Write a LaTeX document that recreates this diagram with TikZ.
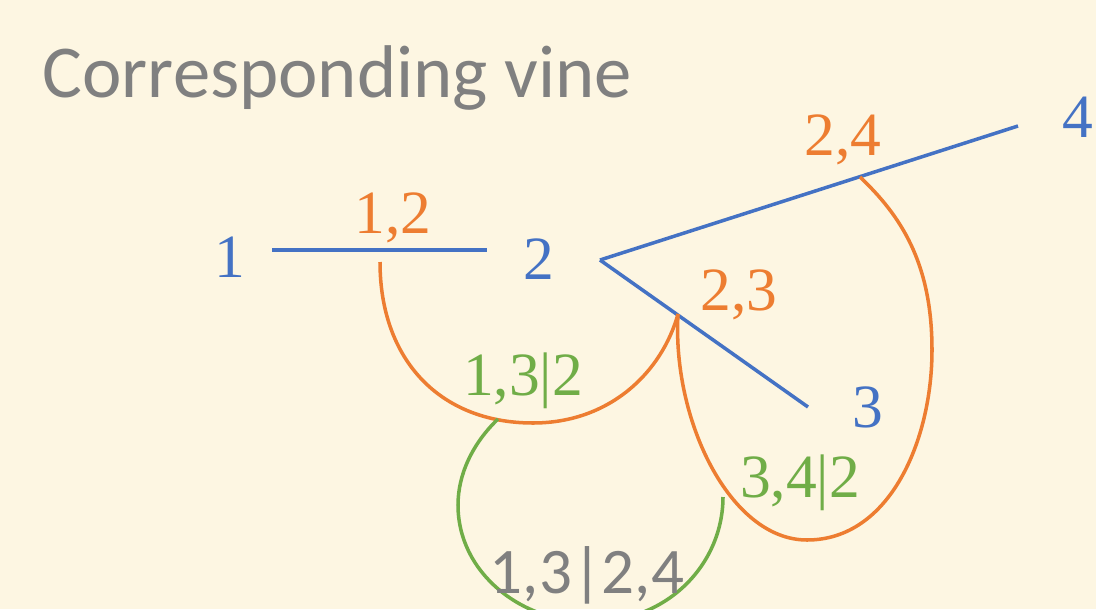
\documentclass[tikz,border=0pt]{standalone}
\usepackage{fontspec}
\newfontfamily\vinefont{Liberation Serif}
\newfontfamily\slidefont{Carlito}
\usepackage{tikz}

\definecolor{bgcream}{RGB}{253,246,226}
\definecolor{vblue}{RGB}{68,114,196}
\definecolor{vorange}{RGB}{237,125,49}
\definecolor{vgreen}{RGB}{112,173,71}
\definecolor{vgray}{RGB}{128,128,128}

\begin{document}
\begin{tikzpicture}[
		x=0.02cm,
		y=-0.02cm,
		line width=2pt,
		main node/.style={font=\vinefont\fontsize{35}{40}\selectfont, inner sep=0pt, anchor=base}
		,
		tree node/.style={
			main node,
			text=vblue
		},
		pair node/.style={
			main node,
			text=vorange
		},
		cond node/.style={
			main node,
			text=vgreen
		},
		tree edge/.style={draw=vblue},
		pair edge/.style={draw=vorange},
		cond edge/.style={draw=vgreen}
		]
		
		\path[use as bounding box, fill=bgcream] (0,0) rectangle (1096,609);
		\clip (0,0) rectangle (1096,609);
		
		% title
		\node[anchor=base west, inner sep=0pt, text=vgray, font=\slidefont\fontsize{42.5}{48}\selectfont] (title) at (41,97) {Corresponding vine};
		
		% first tree
		\node[tree node] (n1) at (230,277) {1};
		\node[tree node] (n2) at (539,279) {2};
		\node[tree node] (n3) at (868,427) {3};
		\node[tree node] (n4) at (1078,137) {4};
		
		\coordinate (a1) at (272,250);
		\coordinate (a2) at (487,250);
		\coordinate (v2) at (600,260);
		\coordinate (a3) at (808,407);
		\coordinate (a4) at (1018,126);
		
		\path[tree edge]
		(a1) edge (a2)
		(v2) edge (a3)
		(v2) edge (a4);
		
		% second tree
		\node[pair node] (e12) at (393,233) {1,2};
		\node[pair node] (e23) at (739,310) {2,3};
		\node[pair node] (e24) at (843,155) {2,4};
		
		\coordinate (m12) at (380,262);
		\coordinate (m23) at (678,314);
		\coordinate (m24) at (860,177);
		
		\draw[pair edge] (m12) .. controls (380,360) and (440,423) .. (533,423)
			.. controls (610,423) and (662,372) .. (m23);
		\draw[pair edge] (m23) .. controls (672,420) and (730,540) .. (807,540)
			.. controls (890,540) and (932,440) .. (932,350)
			.. controls (932,262) and (900,215) .. (m24);
		
		% third tree
		\node[cond node] (e132) at (523,395) {1,3|2};
		\node[cond node] (e342) at (800,497) {3,4|2};
		
		\coordinate (m132) at (498,419);
		\coordinate (m342) at (723,497);
		
		\draw[cond edge] (m132) .. controls (472,444) and (458,475) .. (458,505)
			.. controls (458,572) and (520,622) .. (590,622)
			.. controls (670,622) and (723,562) .. (m342);
		
		\node[main node, text=vgray, font=\slidefont\fontsize{37}{42}\selectfont] (e1324) at (587,593) {1,3|2,4};
	\end{tikzpicture}
\end{document}
